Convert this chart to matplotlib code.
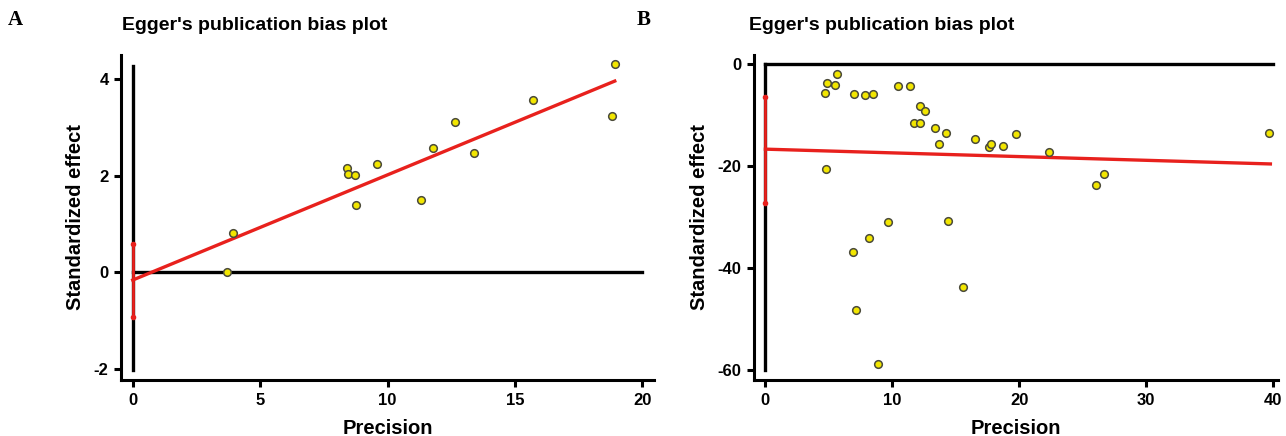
import numpy as np
import matplotlib.pyplot as plt

plt.rcParams['font.family'] = ['Liberation Sans', 'DejaVu Sans']
plt.rcParams['font.weight'] = 'bold'
plt.rcParams['axes.unicode_minus'] = False

# panel A data
a_prec = [3.72, 3.94, 8.40, 8.45, 8.72, 8.77, 9.58, 11.30, 11.79, 12.64, 13.38, 15.73, 18.81, 18.92]
a_eff = [0.0, 0.82, 2.17, 2.04, 2.02, 1.39, 2.24, 1.50, 2.58, 3.12, 2.48, 3.56, 3.23, 4.31]
a_fit_x = [0, 18.92]
a_fit_y = [-0.16, 3.96]
a_ci = [-0.92, 0.59]

# panel B data
b_prec = [4.68, 4.87, 5.62, 5.49, 4.77, 7.01, 7.82, 8.47, 6.88, 7.11, 8.15, 8.86, 9.64,
          10.42, 11.43, 12.18, 12.56, 11.75, 12.18, 13.38, 14.22, 13.70, 14.42, 15.58,
          16.49, 17.63, 17.79, 18.73, 19.77, 22.34, 26.04, 26.72, 39.68]
b_eff = [-5.7, -3.8, -2.0, -4.1, -20.5, -5.9, -6.1, -5.9, -36.9, -48.2, -34.1, -58.9, -31.0,
         -4.4, -4.4, -8.2, -9.2, -11.5, -11.5, -12.5, -13.6, -15.6, -30.7, -43.7,
         -14.8, -16.2, -15.6, -16.1, -13.8, -17.2, -23.8, -21.5, -13.6]
b_fit_x = [0, 39.8]
b_fit_y = [-16.7, -19.6]
b_ci = [-27.2, -6.5]

W, H = 1286, 436
fig = plt.figure(figsize=(W / 100, H / 100), dpi=100)


def px_axes(l, t, r, b):
    return fig.add_axes([l / W, 1 - b / H, (r - l) / W, (b - t) / H])


def style(ax):
    for s in ['top', 'right']:
        ax.spines[s].set_visible(False)
    for s in ['left', 'bottom']:
        ax.spines[s].set_linewidth(2.2)
    ax.tick_params(direction='out', length=5, width=2.2, labelsize=12, pad=4)
    for lab in ax.get_xticklabels() + ax.get_yticklabels():
        lab.set_fontweight('bold')


def draw(ax, prec, eff, fit_x, fit_y, ci, vline, hline_x):
    ax.plot([0, 0], vline, color='black', lw=2.4, zorder=2, clip_on=False)
    ax.plot(hline_x, [0, 0], color='black', lw=2.4, zorder=2, clip_on=False)
    ax.plot(fit_x, fit_y, color='#e8211d', lw=2.4, zorder=3)
    ax.plot([0, 0], ci, color='#e8211d', lw=2, marker='o', ms=3, zorder=3)
    ax.plot(prec, eff, 'o', ms=5.5, mfc='#f2e600', mec='#4a4a3a', mew=1.1,
            zorder=4, clip_on=False)
    ax.set_xlabel('Precision', fontsize=14.5, fontweight='bold', labelpad=8)
    ax.set_ylabel('Standardized effect', fontsize=14.5, fontweight='bold', labelpad=6)


# panel A
axA = px_axes(121, 55, 654, 380)
draw(axA, a_prec, a_eff, a_fit_x, a_fit_y, a_ci, [-2.02, 4.28], [0, 20])
axA.set_xlim(-0.46, 20.46)
axA.set_ylim(-2.23, 4.5)
axA.set_xticks([0, 5, 10, 15, 20])
axA.set_yticks([-2, 0, 2, 4])
style(axA)

# panel B
axB = px_axes(754, 55, 1278, 380)
draw(axB, b_prec, b_eff, b_fit_x, b_fit_y, b_ci, [-60, 0], [0, 40])
axB.set_xlim(-0.9, 40.4)
axB.set_ylim(-61.96, 1.76)
axB.set_xticks([0, 10, 20, 30, 40])
axB.set_yticks([-60, -40, -20, 0])
style(axB)

fig.text(122 / W, 1 - 25 / H, "Egger's publication bias plot", fontsize=14,
         fontweight='bold', va='center', ha='left')
fig.text(749 / W, 1 - 25 / H, "Egger's publication bias plot", fontsize=14,
         fontweight='bold', va='center', ha='left')
fig.text(8 / W, 1 - 20 / H, 'A', family='Liberation Serif', fontsize=15,
         fontweight='bold', va='center', ha='left')
fig.text(637 / W, 1 - 20 / H, 'B', family='Liberation Serif', fontsize=15,
         fontweight='bold', va='center', ha='left')

fig.savefig('out.png', dpi=100)
